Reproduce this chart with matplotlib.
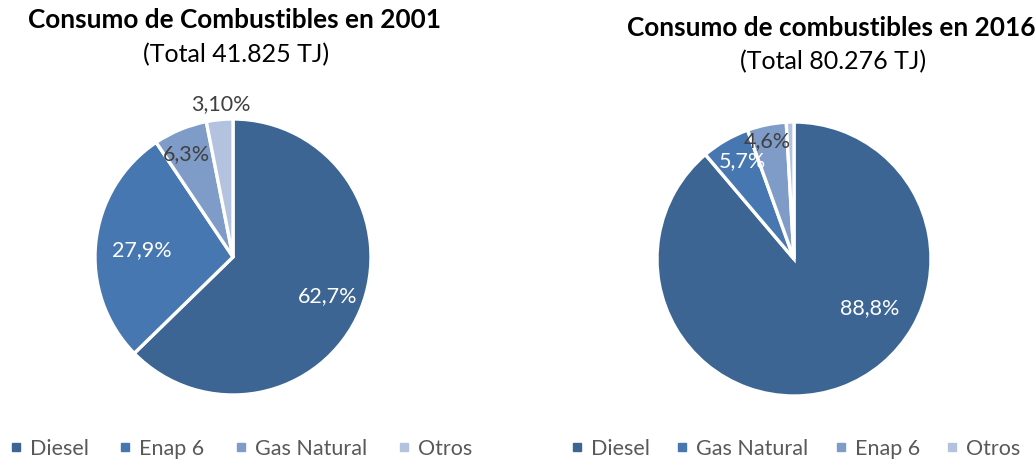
import numpy as np
import matplotlib
matplotlib.use("Agg")
import matplotlib.pyplot as plt
from matplotlib.lines import Line2D

plt.rcParams['font.family'] = ['Lato', 'DejaVu Sans']

# fuel consumption shares (%)
fuels_2001 = ["Diesel", "Enap 6", "Gas Natural", "Otros"]
share_2001 = [62.7, 27.9, 6.3, 3.10]
decimals_2001 = [1, 1, 1, 2]

fuels_2016 = ["Diesel", "Gas Natural", "Enap 6", "Otros"]
share_2016 = [88.8, 5.7, 4.6, 0.9]
decimals_2016 = [1, 1, 1, 1]
shown_2016 = [True, True, True, False]

title_2001 = "Consumo de Combustibles en 2001"
total_2001 = "(Total 41.825 TJ)"
title_2016 = "Consumo de combustibles en 2016"
total_2016 = "(Total 80.276 TJ)"

palette = ["#3C6594", "#4777B0", "#7F9CC8", "#B3C2DF"]
txt_light = "white"
txt_dark = "#404040"

W, H = 1036, 462
fig = plt.figure(figsize=(W / 100, H / 100), dpi=100)


def pct_text(v, d):
    return f"{v:.{d}f}".replace(".", ",") + "%"


def draw_pie(ax, values, decs, label_pos, label_col, shown):
    wedges, _ = ax.pie(values, colors=palette, startangle=90, counterclock=False,
                       wedgeprops=dict(edgecolor="white", linewidth=2.4))
    ax.set_xlim(-1, 1)
    ax.set_ylim(-1, 1)
    ax.set_aspect("equal")
    for v, d, (dist, ang), c, s in zip(values, decs, label_pos, label_col, shown):
        if not s:
            continue
        a = np.deg2rad(ang)
        ax.text(dist * np.cos(a), dist * np.sin(a), pct_text(v, d), ha="center",
                va="center", color=c, fontsize=15.5, clip_on=False)


# left pie: centre (233, 257) px, r 138 px
ax1 = fig.add_axes([(233 - 138) / W, (H - 257 - 138) / H, 276 / W, 276 / H])
draw_pie(ax1, share_2001, decimals_2001,
         [(0.74, -22.3), (0.66, 175.6), (0.82, 114.5), (1.11, 94.5)],
         [txt_light, txt_light, txt_dark, txt_dark], [True] * 4)

# right pie: centre (794, 259) px, r 137 px
ax2 = fig.add_axes([(794 - 137) / W, (H - 259 - 137) / H, 274 / W, 274 / H])
draw_pie(ax2, share_2016, decimals_2016,
         [(0.66, -33.0), (0.81, 117.9), (0.88, 102.9), (1.0, 90)],
         [txt_light, txt_light, txt_dark, txt_dark], shown_2016)

fig.text(28 / W, 1 - 20 / H, title_2001, ha="left", va="center",
         fontsize=18.8, fontweight="bold")
fig.text(143 / W, 1 - 55 / H, total_2001, ha="left", va="center", fontsize=18)
fig.text(627 / W, 1 - 28 / H, title_2016, ha="left", va="center",
         fontsize=18.8, fontweight="bold")
fig.text(740 / W, 1 - 62 / H, total_2016, ha="left", va="center", fontsize=18)


def legend_handles(names):
    return [Line2D([], [], marker="s", linestyle="none", markersize=6,
                   color=palette[i]) for i in range(len(names))]


for names, x0, gap in [(fuels_2001, 2 / W, 1.45), (fuels_2016, 563 / W, 1.25)]:
    fig.legend(legend_handles(names), names, loc="center left",
               bbox_to_anchor=(x0, 1 - 449 / H), ncol=4, frameon=False,
               fontsize=15.5, handlelength=0.5, handletextpad=0.4,
               columnspacing=gap, labelcolor="#595959", borderaxespad=0)

fig.savefig("out.png", dpi=100)
